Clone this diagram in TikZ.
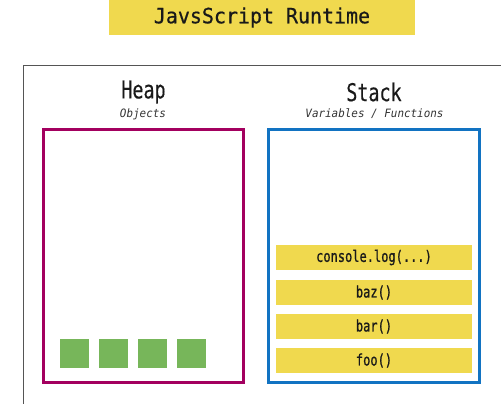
\documentclass[tikz,border=0pt]{standalone}
\usepackage{fontspec}
\newfontfamily\titlefont[FakeStretch=0.95,FakeBold=0.6]{DejaVu Sans Mono}
\newfontfamily\condfont[FakeStretch=0.75,FakeBold=0.3]{DejaVu Sans Mono}
\newfontfamily\barfont[FakeStretch=0.76,FakeBold=1]{DejaVu Sans Mono}
\newfontfamily\subfont[FakeStretch=0.95]{DejaVu Sans Mono Oblique}
\definecolor{jsyellow}{HTML}{F0D94E}
\definecolor{heapcol}{HTML}{A3005F}
\definecolor{stackcol}{HTML}{1273C2}
\definecolor{objgreen}{HTML}{77B65A}
\definecolor{framegray}{HTML}{555555}
\tikzset{
  bar/.style={fill=jsyellow, draw=none, minimum width=196pt, minimum height=25pt, inner sep=0pt, outer sep=0pt, anchor=north west,
    font=\barfont\fontsize{15.8}{15.8}\selectfont, text=black!90},
  obj/.style={fill=objgreen, draw=none, minimum width=29pt, minimum height=29pt, inner sep=0pt, outer sep=0pt, anchor=north west},
  region/.style={line width=3pt, minimum height=253pt, inner sep=0pt, outer sep=0pt, anchor=north west},
  heading/.style={font=\condfont\fontsize{24.5}{24.5}\selectfont, text=black!90, inner sep=0pt},
  subheading/.style={font=\subfont\fontsize{11.5}{11.5}\selectfont, text=black!80, inner sep=0pt},
}
\begin{document}
\begin{tikzpicture}[x=1pt,y=-1pt]
\useasboundingbox (0,0) rectangle (501,404);
% title
\node[fill=jsyellow, minimum width=306pt, minimum height=35pt, inner sep=0pt, outer sep=0pt, anchor=north west,
  font=\titlefont\fontsize{21}{21}\selectfont, text=black!90] (title) at (109,0) {JavsScript Runtime};
% outer frame
\coordinate (fbl) at (23,404);
\coordinate (ftl) at (23,66);
\coordinate (ftr) at (501,66);
\draw[framegray, line width=1pt] (fbl) -- (ftl) -- (ftr);
% heap
\node[heading] (heaplbl) at (143.5,92) {Heap};
\node[subheading] (heapsub) at (143,114) {Objects};
\node[region, draw=heapcol, minimum width=200pt] (heap) at (43.5,129.5) {};
\node[obj] (o1) at (60,339) {};
\node[obj] (o2) at (99,339) {};
\node[obj] (o3) at (138,339) {};
\node[obj] (o4) at (177,339) {};
% stack
\node[heading] (stacklbl) at (374,92) {Stack};
\node[subheading] (stacksub) at (374.5,114) {Variables / Functions};
\node[region, draw=stackcol, minimum width=211pt] (stack) at (268.5,129.5) {};
\node[bar] (b1) at (276,245) {console.log(...)};
\node[bar] (b2) at (276,280) {baz()};
\node[bar] (b3) at (276,314) {bar()};
\node[bar] (b4) at (276,348) {foo()};
\end{tikzpicture}
\end{document}
